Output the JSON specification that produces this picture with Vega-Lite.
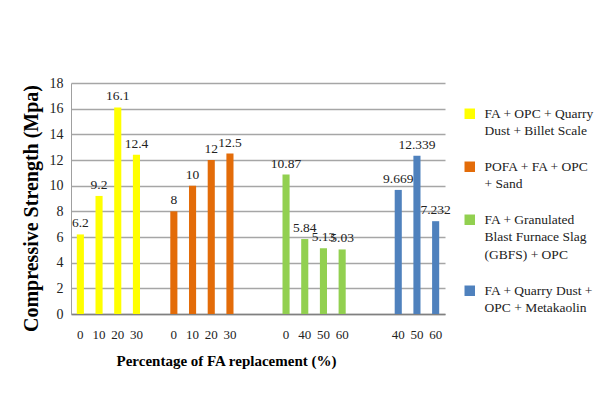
{
  "$schema": "https://vega.github.io/schema/vega-lite/v6.json",
  "autosize": {"type": "none"},
  "width": 374,
  "height": 231,
  "padding": {"left": 71, "top": 83, "right": 149, "bottom": 82},
  "background": "white",
  "config": {
    "view": {"stroke": null},
    "font": "Liberation Serif"
  },
  "data": {
    "values": [
      {"slot": "A0", "group": "FA + OPC + Quarry Dust + Billet Scale", "value": 6.2},
      {"slot": "A10", "group": "FA + OPC + Quarry Dust + Billet Scale", "value": 9.2},
      {"slot": "A20", "group": "FA + OPC + Quarry Dust + Billet Scale", "value": 16.1},
      {"slot": "A30", "group": "FA + OPC + Quarry Dust + Billet Scale", "value": 12.4},
      {"slot": "B0", "group": "POFA + FA + OPC + Sand", "value": 8},
      {"slot": "B10", "group": "POFA + FA + OPC + Sand", "value": 10},
      {"slot": "B20", "group": "POFA + FA + OPC + Sand", "value": 12},
      {"slot": "B30", "group": "POFA + FA + OPC + Sand", "value": 12.5},
      {"slot": "C0", "group": "FA + Granulated Blast Furnace Slag (GBFS) + OPC", "value": 10.87},
      {"slot": "C40", "group": "FA + Granulated Blast Furnace Slag (GBFS) + OPC", "value": 5.84},
      {"slot": "C50", "group": "FA + Granulated Blast Furnace Slag (GBFS) + OPC", "value": 5.13},
      {"slot": "C60", "group": "FA + Granulated Blast Furnace Slag (GBFS) + OPC", "value": 5.03},
      {"slot": "D40", "group": "FA + Quarry Dust + OPC + Metakaolin", "value": 9.669},
      {"slot": "D50", "group": "FA + Quarry Dust + OPC + Metakaolin", "value": 12.339},
      {"slot": "D60", "group": "FA + Quarry Dust + OPC + Metakaolin", "value": 7.232}
    ]
  },
  "encoding": {
    "x": {
      "field": "slot",
      "type": "nominal",
      "sort": null,
      "scale": {
        "domain": ["A0","A10","A20","A30","X1","B0","B10","B20","B30","X2","X3","C0","C40","C50","C60","X4","X5","D40","D50","D60"],
        "paddingInner": 0.62,
        "paddingOuter": 0.31
      },
      "axis": {
        "title": "Percentage of FA replacement (%)",
        "labelExpr": "indexof(datum.value,'X')==0 ? '' : substring(datum.value,1)",
        "labelAngle": 0,
        "labelFont": "Liberation Serif",
        "labelFontSize": 13,
        "labelColor": "#222222",
        "labelPadding": 14,
        "ticks": false,
        "domainColor": "#808080",
        "domainWidth": 1.5,
        "titleFont": "Liberation Serif",
        "titleFontSize": 15,
        "titleFontWeight": "bold",
        "titleColor": "#000000",
        "titlePadding": 12,
        "titleX": 155
      }
    },
    "y": {
      "field": "value",
      "type": "quantitative",
      "scale": {"domain": [0, 18]},
      "axis": {
        "title": "Compressive Strength (Mpa)",
        "values": [0,2,4,6,8,10,12,14,16,18],
        "labelFont": "Liberation Serif",
        "labelFontSize": 14,
        "labelColor": "#222222",
        "labelPadding": 8,
        "ticks": false,
        "domainColor": "#A0A0A0",
        "domainWidth": 1,
        "gridColor": "#A6A6A6",
        "gridWidth": 1.5,
        "titleFont": "Liberation Serif",
        "titleFontSize": 20,
        "titleFontWeight": "bold",
        "titleColor": "#000000",
        "titlePadding": 8,
        "titleY": 125
      }
    }
  },
  "layer": [
    {
      "mark": {"type": "bar"},
      "encoding": {
        "color": {
          "field": "group",
          "type": "nominal",
          "scale": {
            "domain": ["FA + OPC + Quarry Dust + Billet Scale", "POFA + FA + OPC + Sand", "FA + Granulated Blast Furnace Slag (GBFS) + OPC", "FA + Quarry Dust + OPC + Metakaolin"],
            "range": ["#FFFF00", "#E36C09", "#92D050", "#4F81BD"]
          },
          "legend": {
            "title": null,
            "orient": "none",
            "legendX": 392,
            "legendY": 24,
            "symbolType": "square",
            "symbolSize": 110,
            "symbolStrokeWidth": 0,
            "labelFont": "Liberation Serif",
            "labelFontSize": 13.5,
            "labelColor": "#222222",
            "labelOffset": 8,
            "labelLimit": 200,
            "rowPadding": 21,
            "encode": {"labels": {"update": {"lineHeight": {"value": 17.5}}}},
            "labelExpr": "datum.label == 'FA + OPC + Quarry Dust + Billet Scale' ? ['FA + OPC + Quarry', 'Dust + Billet Scale'] : datum.label == 'POFA + FA + OPC + Sand' ? ['POFA + FA + OPC', '+ Sand'] : datum.label == 'FA + Granulated Blast Furnace Slag (GBFS) + OPC' ? ['FA + Granulated', 'Blast Furnace Slag', '(GBFS) + OPC'] : ['FA + Quarry Dust +', 'OPC + Metakaolin']"
          }
        }
      }
    },
    {
      "mark": {"type": "text", "baseline": "bottom", "dy": -4, "fontSize": 13.5, "font": "Liberation Serif", "color": "#222222"},
      "encoding": {
        "text": {"field": "value", "type": "quantitative"}
      }
    }
  ]
}
